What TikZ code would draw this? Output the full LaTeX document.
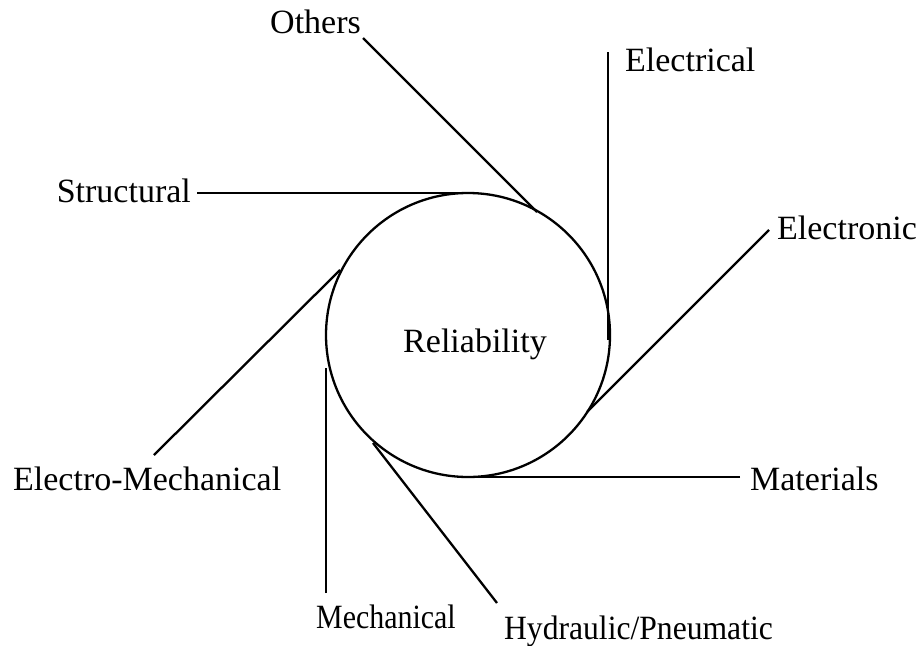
\documentclass[tikz,border=0pt]{standalone}
\usepackage{fontspec}
\setmainfont{Liberation Serif}
\usepackage{tikz}
\usetikzlibrary{positioning}

\begin{document}
\begin{tikzpicture}[x=1pt,y=-1pt,line width=2.3pt,
                    every node/.style={inner sep=0pt,font=\fontsize{34}{40}\selectfont},
                    hub/.style={draw,circle,minimum size=284pt}]
  \useasboundingbox (0,0) rectangle (920,645);
  % centre
  \node[hub] (rel) at (468,335) {};
  \node[anchor=base] (reltxt) at (475,352) {Reliability};
  % labels
  \node[anchor=base east] (str) at (192,202) {Structural};
  \node[anchor=base east] (oth) at (362,33) {Others};
  \node[anchor=base west] (elc) at (624,71) {Electrical};
  \node[anchor=base west] (eln) at (776,239) {Electronic};
  \node[anchor=base west] (mat) at (749,490) {Materials};
  \node[anchor=base west] (hyd) at (503,639) {\scalebox{0.93}[1]{Hydraulic/Pneumatic}};
  \node[anchor=base west] (mec) at (315,628) {\scalebox{0.88}[1]{Mechanical}};
  \node[anchor=base west] (elm) at (12,490) {Electro-Mechanical};
  % line ends
  \coordinate (str-o) at (197,193); \coordinate (str-i) at (477,193);
  \coordinate (oth-o) at (363,38);  \coordinate (oth-i) at (537,212);
  \coordinate (elc-o) at (608,52);  \coordinate (elc-i) at (608,340);
  \coordinate (eln-o) at (769,230); \coordinate (eln-i) at (587,412);
  \coordinate (mat-o) at (740,477); \coordinate (mat-i) at (465,477);
  \coordinate (hyd-o) at (497,603); \coordinate (hyd-i) at (373,443);
  \coordinate (mec-o) at (326,593); \coordinate (mec-i) at (326,368);
  \coordinate (elm-o) at (154,455); \coordinate (elm-i) at (340,270);
  % connectors
  \draw (str-o)--(str-i); \draw (oth-o)--(oth-i);
  \draw (elc-o)--(elc-i); \draw (eln-o)--(eln-i);
  \draw (mat-o)--(mat-i); \draw (hyd-o)--(hyd-i);
  \draw (mec-o)--(mec-i); \draw (elm-o)--(elm-i);
\end{tikzpicture}
\end{document}
